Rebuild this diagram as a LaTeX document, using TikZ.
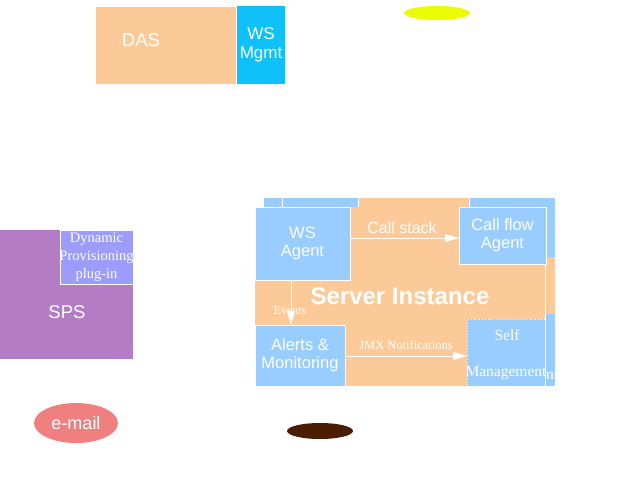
\documentclass[tikz,border=0pt]{standalone}
\usepackage{fontspec}
\setmainfont{Liberation Serif}
\setsansfont{Liberation Sans}
\usetikzlibrary{arrows.meta,shapes.geometric}
\definecolor{peach}{HTML}{FCCA98}
\definecolor{lblue}{HTML}{99CCFF}
\definecolor{wsm}{HTML}{10C0F8}
\definecolor{sps}{HTML}{B47CC4}
\definecolor{dyn}{HTML}{9C9CFC}
\definecolor{mail}{HTML}{F08080}
\definecolor{yel}{HTML}{EAFC00}
\definecolor{brn}{HTML}{4A1C00}
\tikzset{
  box/.style={draw=white, line width=0.8pt, inner sep=0pt, outer sep=0pt, text=white, align=center, font=\sffamily\fontsize{16.5}{18}\selectfont},
  wline/.style={draw=white, line width=0.8pt, -{Triangle[length=14pt,width=8pt,fill=white]}},
  lbl/.style={text=white, inner sep=0pt},
  bigsans/.style={font=\sffamily\fontsize{18.5}{20}\selectfont},
  serifm/.style={font=\rmfamily\fontsize{15.5}{17}\selectfont},
}
\begin{document}
\begin{tikzpicture}[x=1pt,y=-1pt]
\useasboundingbox[fill=white] (0,0) rectangle (640,480);
% top
\node[box, fill=peach, minimum width=141, minimum height=78, anchor=north west] (das) at (95,6) {};
\node[lbl, bigsans] (dastext) at (141,40) {DAS};
\node[box, draw=none, fill=wsm, minimum width=48, minimum height=78, anchor=north west, font=\sffamily\fontsize{17}{19}\selectfont] (wsm) at (237,6) {WS\\Mgmt};
\node[fill=yel, ellipse, minimum width=66, minimum height=14, inner sep=0pt] (yel) at (437,13) {};
% SPS
\node[box, draw=none, fill=sps, minimum width=133, minimum height=129, anchor=north west] (sps) at (0,230) {};
\node[lbl, bigsans] (spstext) at (67,312) {SPS};
\node[box, fill=dyn, minimum width=73, minimum height=54, anchor=north west] (dyn) at (60,230) {};
\node[lbl, align=center, font=\rmfamily\fontsize{14.5}{18}\selectfont] (dyntext) at (96.5,257) {Dynamic\\Provisioning\\plug-in};
% ellipses bottom
\node[fill=mail, ellipse, minimum width=84, minimum height=40, inner sep=0pt, text=white, font=\sffamily\fontsize{18}{20}\selectfont] (mail) at (76,423) {e-mail};
\node[fill=brn, ellipse, minimum width=66, minimum height=16, inner sep=0pt] (brn) at (320,431) {};
% back layer
\fill[lblue] (264,198) rectangle (358,207);
\draw[white, line width=0.8pt] (282,198) -- (282,207);
\fill[peach] (359,198) rectangle (469,207);
\fill[lblue] (470,198) rectangle (555,257);
\fill[peach] (546,257) rectangle (555,314);
\fill[lblue] (546,314) rectangle (555,386);
\begin{scope}
\clip (547,360) rectangle (555,386);
\node[lbl, serifm, anchor=west] (backnt) at (546,375) {nt};
\end{scope}
% server instance
\node[box, draw=none, fill=peach, minimum width=290, minimum height=179, anchor=north west] (si) at (255,207) {};
\node[lbl, font=\sffamily\bfseries\fontsize{24}{26}\selectfont] (sitext) at (400,296) {Server Instance};
\node[box, fill=lblue, minimum width=95, minimum height=73, anchor=north west] (wsa) at (255,207) {WS\\Agent};
\node[box, fill=lblue, minimum width=87, minimum height=57, anchor=north west] (cfa) at (459,207) {Call flow\\Agent};
\node[box, fill=lblue, minimum width=90, minimum height=61, anchor=north west] (alm) at (255,325) {Alerts \&\\Monitoring};
\node[box, fill=lblue, dotted, minimum width=78, minimum height=67, anchor=north west] (sm) at (467,319) {};
\node[lbl, serifm] (smself) at (507,335) {Self};
\node[lbl, serifm] (smmgmt) at (506,373) {Management};
% connectors
\draw[wline] (wsa.east |- 0,238) -- (cfa.west |- 0,238);
\node[lbl, font=\sffamily\fontsize{16}{18}\selectfont] (cs) at (402,228) {Call stack};
\draw[wline] (wsa.south -| 291,0) -- (alm.north -| 291,0);
\node[lbl, font=\rmfamily\fontsize{12}{14}\selectfont] (ev) at (290,311) {Events};
\draw[wline] (alm.east |- 0,356) -- (sm.west |- 0,356);
\node[lbl, font=\rmfamily\fontsize{12.5}{14}\selectfont] (jmx) at (406,345) {JMX Notifications};
\end{tikzpicture}
\end{document}
